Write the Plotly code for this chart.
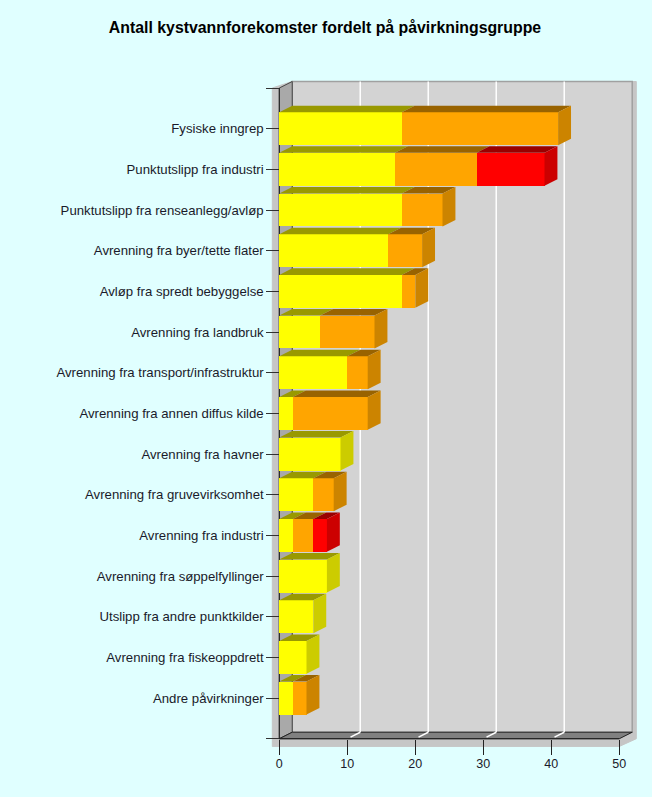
import plotly.graph_objects as go

# ==========================================================
# Data
# ==========================================================

categories = [
    "Fysiske inngrep",
    "Punktutslipp fra industri",
    "Punktutslipp fra renseanlegg/avløp",
    "Avrenning fra byer/tette flater",
    "Avløp fra spredt bebyggelse",
    "Avrenning fra landbruk",
    "Avrenning fra transport/infrastruktur",
    "Avrenning fra annen diffus kilde",
    "Avrenning fra havner",
    "Avrenning fra gruvevirksomhet",
    "Avrenning fra industri",
    "Avrenning fra søppelfyllinger",
    "Utslipp fra andre punktkilder",
    "Avrenning fra fiskeoppdrett",
    "Andre påvirkninger",
]
yellow_values = [18, 17, 18, 16, 18, 6, 10, 2, 9, 5, 2, 7, 5, 4, 2]
orange_values = [23, 12, 6, 5, 2, 8, 3, 11, 0, 3, 3, 0, 0, 0, 2]
red_values = [0, 10, 0, 0, 0, 0, 0, 0, 0, 0, 2, 0, 0, 0, 0]
x_ticks = [0, 10, 20, 30, 40, 50]

series = [
    (yellow_values, "#ffff00", "#999900", "#cccc00"),
    (orange_values, "#ffa500", "#996300", "#cc8400"),
    (red_values, "#ff0000", "#990000", "#cc0000"),
]

# ==========================================================
# Pixel layout of the 3D box
# ==========================================================

WIDTH, HEIGHT = 652, 797
PX_PER_X = 6.8
PX_PER_Y = 40.67
X0_PX, Y0_PX = 279.3, 88.0
AREA = (262, 645, 70, 755)

DX = 1.9
DY = 0.16
BAR = 0.81
Y_MAX = 16
X_MAX = 50

x_range = [(AREA[0] - X0_PX) / PX_PER_X, (AREA[1] - X0_PX) / PX_PER_X]
y_range = [(AREA[3] - Y0_PX) / PX_PER_Y, (AREA[2] - Y0_PX) / PX_PER_Y]


def poly(points, fill, line=None, width=1):
    path = "M " + " L ".join(f"{x},{y}" for x, y in points) + " Z"
    return dict(
        type="path", path=path, xref="x", yref="y", layer="below",
        fillcolor=fill, line=dict(color=line or fill, width=width),
    )


def seg(x0, y0, x1, y1, color, width=1):
    return dict(
        type="line", x0=x0, y0=y0, x1=x1, y1=y1, xref="x", yref="y",
        layer="below", line=dict(color=color, width=width),
    )


# ==========================================================
# Box: shadow, walls, floor, grid
# ==========================================================

shapes = [
    poly([(-1.03, 0), (DX, -DY), (X_MAX + 2.5, -DY), (X_MAX + 2.5, Y_MAX),
          (X_MAX, Y_MAX + 0.19), (-1.03, Y_MAX + 0.19)], "#c6c6c6"),
    poly([(DX, -DY), (X_MAX + DX, -DY), (X_MAX + DX, Y_MAX - DY), (DX, Y_MAX - DY)],
         "#d3d3d3", "#a0a0a0", 1.5),
    poly([(0, 0), (DX, -DY), (DX, Y_MAX - DY), (0, Y_MAX)], "#a9a9a9", "#444444"),
    poly([(0, Y_MAX), (DX, Y_MAX - DY), (X_MAX + DX, Y_MAX - DY), (X_MAX, Y_MAX)],
         "#808080", "#222222"),
]
for t in x_ticks[1:-1]:
    shapes.append(seg(t + DX, -DY, t + DX, Y_MAX - DY, "#ffffff", 1.5))
    shapes.append(seg(t + 0.25 * DX, Y_MAX - 0.25 * DY, t + DX, Y_MAX - DY, "#ffffff", 1.5))
shapes.append(seg(0, 0, 0, Y_MAX, "#222222"))
shapes.append(seg(0, Y_MAX, X_MAX, Y_MAX, "#222222"))

# ==========================================================
# Bars
# ==========================================================

rows = list(range(1, len(categories) + 1))
fig = go.Figure()

for values, front, _, _ in series:
    fig.add_trace(go.Bar(
        y=rows, x=values, orientation="h", width=BAR,
        marker=dict(color=front, line=dict(width=0)),
        hoverinfo="skip", showlegend=False,
    ))

# top and side faces follow the stacked values
for r, row in enumerate(rows):
    start = 0
    top_y = row - BAR / 2
    bottom_y = row + BAR / 2
    last = None
    for values, _, top, side in series:
        v = values[r]
        if v == 0:
            continue
        end = start + v
        fig.add_trace(go.Scatter(
            x=[start, start + DX, end + DX, end, start],
            y=[top_y, top_y - DY, top_y - DY, top_y, top_y],
            mode="lines", fill="toself", fillcolor=top, line=dict(width=0),
            hoverinfo="skip", showlegend=False,
        ))
        start = end
        last = side
    fig.add_trace(go.Scatter(
        x=[start, start + DX, start + DX, start, start],
        y=[top_y, top_y - DY, bottom_y - DY, bottom_y, top_y],
        mode="lines", fill="toself", fillcolor=last, line=dict(width=0),
        hoverinfo="skip", showlegend=False,
    ))

# ==========================================================
# Layout
# ==========================================================

fig.update_layout(
    width=WIDTH,
    height=HEIGHT,
    margin=dict(l=0, r=0, t=0, b=0),
    paper_bgcolor="#e0ffff",
    plot_bgcolor="rgba(0,0,0,0)",
    barmode="stack",
    bargap=0,
    font=dict(family="Liberation Sans", size=13.2, color="#1a1a2a"),
    title=dict(
        text="<b>Antall kystvannforekomster fordelt på påvirkningsgruppe</b>",
        x=325 / WIDTH, y=1 - 27 / HEIGHT, xanchor="center", yanchor="middle",
        font=dict(size=15.85, color="#000000"),
    ),
    shapes=shapes,
    xaxis=dict(
        domain=[AREA[0] / WIDTH, AREA[1] / WIDTH],
        range=x_range,
        anchor="free",
        position=1 - (Y0_PX + Y_MAX * PX_PER_Y) / HEIGHT,
        tickmode="array",
        tickvals=x_ticks,
        ticks="outside",
        ticklen=15,
        tickcolor="#222222",
        tickfont=dict(size=12.5),
        ticklabelstandoff=-2,
        showgrid=False,
        zeroline=False,
        showline=False,
    ),
    yaxis=dict(
        domain=[1 - AREA[3] / HEIGHT, 1 - AREA[2] / HEIGHT],
        range=y_range,
        anchor="free",
        position=X0_PX / WIDTH,
        tickmode="array",
        tickvals=[0] + rows + [Y_MAX],
        ticktext=[""] + categories + [""],
        ticks="outside",
        ticklen=13,
        tickcolor="#333333",
        showgrid=False,
        zeroline=False,
        showline=False,
    ),
)

fig.write_html(
    "out.html",
    config={"displayModeBar": False},
    post_script="document.body.style.margin='0';",
)
